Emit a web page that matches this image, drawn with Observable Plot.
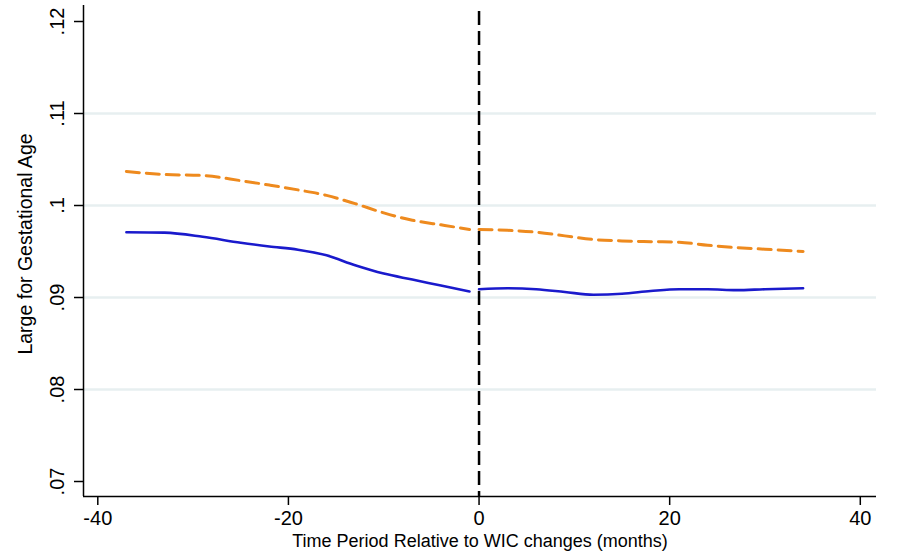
<!DOCTYPE html>
<html>
<head>
<meta charset="utf-8">
<script src="https://cdn.jsdelivr.net/npm/d3@7"></script>
<script src="https://cdn.jsdelivr.net/npm/@observablehq/plot@0.6"></script>
<style>
  body { margin: 0; background: #fff; }
</style>
</head>
<body>
<div id="chart"></div>
<script>
// Months relative to the WIC changes, before and after the change
const preMonths  = [-37, -33, -29, -25, -22, -19, -16, -13, -10, -7, -4, -1];
const postMonths = [0, 3, 6, 9, 12, 15, 18, 21, 24, 27, 30, 34];

// Upper (dashed orange) series
const upperPre  = [0.1037, 0.10337, 0.10326, 0.1027, 0.10222, 0.1017, 0.1011, 0.1002, 0.0992, 0.0984, 0.0979, 0.0974];
const upperPost = [0.0974, 0.0973, 0.0971, 0.0967, 0.0963, 0.09615, 0.09607, 0.0960, 0.09568, 0.09542, 0.09525, 0.0950];

// Lower (solid blue) series
const lowerPre  = [0.0971, 0.09705, 0.0966, 0.09595, 0.09555, 0.0952, 0.09458, 0.0935, 0.0926, 0.09195, 0.0913, 0.09065];
const lowerPost = [0.0909, 0.0910, 0.0909, 0.0906, 0.0903, 0.0904, 0.0907, 0.0909, 0.0909, 0.0908, 0.0909, 0.0910];

// Axis ticks and labels
const xTicks = [-40, -20, 0, 20, 40];
const yTicks = [0.07, 0.08, 0.09, 0.10, 0.11, 0.12];
const yTickLabels = [".07", ".08", ".09", ".1", ".11", ".12"];
const gridValues = [0.08, 0.09, 0.10, 0.11];

const xTitle = "Time Period Relative to WIC changes (months)";
const yTitle = "Large for Gestational Age";

function rows(months, values, segment) {
  return months.map((m, i) => ({month: m, value: values[i], segment}));
}
const upper = [...rows(preMonths, upperPre, "pre"), ...rows(postMonths, upperPost, "post")];
const lower = [...rows(preMonths, lowerPre, "pre"), ...rows(postMonths, lowerPost, "post")];

const xDomain = [-41.5, 41.7];
const yDomain = [0.06837, 0.12174];

const chart = Plot.plot({
  width: 897,
  height: 557,
  marginLeft: 83,
  marginRight: 21,
  marginTop: 5,
  marginBottom: 61,
  style: {fontFamily: "'Liberation Sans', Arial, sans-serif", fontSize: "20px", background: "#fff", color: "#000"},
  x: {domain: xDomain},
  y: {domain: yDomain},
  marks: [
    Plot.ruleY(gridValues, {stroke: "#e7eff0", strokeWidth: 2.5}),
    Plot.ruleX([0], {stroke: "#000", strokeWidth: 2.5, strokeDasharray: "14,6", strokeDashoffset: -6}),
    Plot.line(upper, {x: "month", y: "value", z: "segment", stroke: "#ee8a1e", strokeWidth: 3, strokeDasharray: "13,7", curve: "monotone-x"}),
    Plot.line(lower, {x: "month", y: "value", z: "segment", stroke: "#1a1acc", strokeWidth: 2.6, curve: "monotone-x"}),
    Plot.ruleX([xDomain[0]], {stroke: "#000", strokeWidth: 1.5}),
    Plot.ruleY([yDomain[0]], {stroke: "#000", strokeWidth: 1.5}),
    Plot.axisX(xTicks, {tickSize: 9, tickPadding: 5, strokeWidth: 1.5, label: null, tickFormat: d => String(d)}),
    Plot.axisY(yTicks, {tickSize: 9, strokeWidth: 1.5, label: null, tickFormat: () => ""}),
    Plot.text(yTicks, {y: d => d, text: (d, i) => yTickLabels[i], frameAnchor: "left", dx: -20, rotate: -90, textAnchor: "middle", lineAnchor: "bottom", fontSize: 20}),
    Plot.text([xTitle], {frameAnchor: "bottom", dy: 50, lineAnchor: "bottom", fontSize: 18}),
    Plot.text([yTitle], {frameAnchor: "left", dx: -52, dy: -7, rotate: -90, textAnchor: "middle", lineAnchor: "bottom", fontSize: 19.5})
  ]
});

document.getElementById("chart").appendChild(chart);
</script>
</body>
</html>
